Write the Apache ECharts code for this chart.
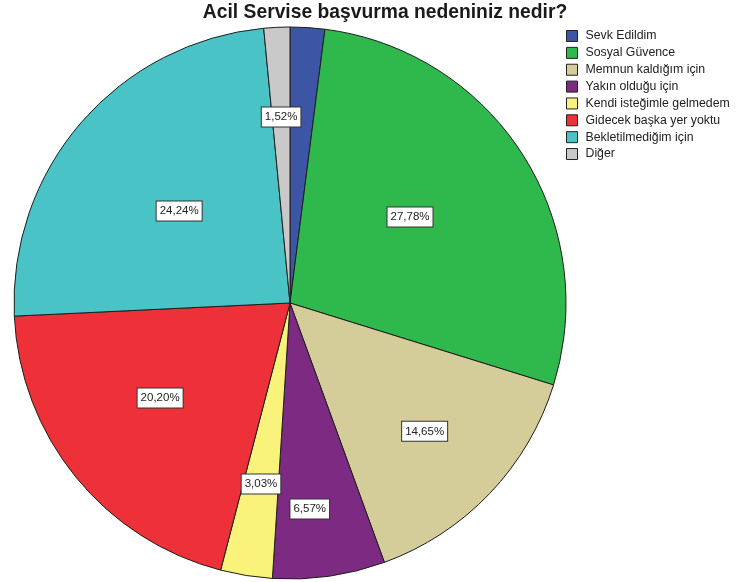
<!DOCTYPE html>
<html>
<head>
<meta charset="utf-8">
<style>
  html, body { margin: 0; padding: 0; background: #fff; }
  #chart { width: 736px; height: 582px; }
</style>
<script src="https://cdn.jsdelivr.net/npm/echarts@6/dist/echarts.min.js"></script>
</head>
<body>
<div id="chart"></div>
<script>
// Reasons for applying to the emergency department (percent of respondents)
const categories = [
  'Sevk Edildim',
  'Sosyal Güvence',
  'Memnun kaldığım için',
  'Yakın olduğu için',
  'Kendi isteğimle gelmedem',
  'Gidecek başka yer yoktu',
  'Bekletilmediğim için',
  'Diğer'
];
const percents = [2.02, 27.78, 14.65, 6.57, 3.03, 20.20, 24.24, 1.52];
const sliceColors = ['#3c55a5', '#2fb84c', '#d4cd99', '#7c2a82', '#f9f37b', '#ee3039', '#4ac3c6', '#c9c9c9'];
// label anchor per slice: [fraction of radius, angular shift in degrees]; null = no label
const labelAnchor = [null, [0.535, -2.9], [0.674, 0], [0.75, 2.7], [0.664, 0], [0.583, 2.9], [0.522, -1.2], [0.675, 0]];

const CX = 290, CY = 303, R = 276;

// bisector angle of each slice, clockwise from 12 o'clock
const total = percents.reduce((a, b) => a + b, 0);
const midAngles = [];
let acc = 0;
percents.forEach(v => {
  midAngles.push(((acc + v / 2) / total) * Math.PI * 2);
  acc += v;
});

const fmt = v => v.toFixed(2).replace('.', ',') + '%';
const FONT = 'Liberation Sans, Arial, sans-serif';

const chart = echarts.init(document.getElementById('chart'), null, { renderer: 'canvas' });
chart.setOption({
  animation: false,
  backgroundColor: '#ffffff',
  title: {
    text: 'Acil Servise başvurma nedeniniz nedir?',
    left: 385,
    textAlign: 'center',
    top: 0,
    padding: [3, 0, 0, 0],
    textStyle: { fontFamily: FONT, fontSize: 19.3, fontWeight: 'bold', color: '#1a1a1a' }
  },
  legend: {
    orient: 'vertical',
    left: 566,
    top: 30,
    padding: 0,
    itemWidth: 11,
    itemHeight: 11,
    itemGap: 4.86,
    icon: 'rect',
    selectedMode: false,
    itemStyle: { borderColor: '#222', borderWidth: 1 },
    textStyle: { fontFamily: FONT, fontSize: 12.3, lineHeight: 11, color: '#222', padding: [0, 0, 0, 3] },
    data: categories
  },
  series: [{
    type: 'pie',
    center: [CX, CY],
    radius: R,
    startAngle: 90,
    clockwise: true,
    silent: true,
    avoidLabelOverlap: false,
    itemStyle: { borderColor: '#1e1e1e', borderWidth: 1 },
    label: {
      position: 'inside',
      formatter: p => fmt(p.value),
      fontFamily: FONT,
      fontSize: 11.5,
      color: '#222',
      backgroundColor: '#ffffff',
      borderColor: '#333',
      borderWidth: 1,
      padding: [4, 3, 3, 3]
    },
    labelLine: { show: false },
    labelLayout: params => {
      const i = params.dataIndex;
      const anchor = labelAnchor[i];
      if (!anchor) return {};
      const a = midAngles[i] + anchor[1] * Math.PI / 180;
      return { x: CX + Math.sin(a) * R * anchor[0], y: CY - Math.cos(a) * R * anchor[0], align: 'center', verticalAlign: 'middle' };
    },
    data: categories.map((name, i) => ({
      name,
      value: percents[i],
      itemStyle: { color: sliceColors[i] },
      label: { show: labelAnchor[i] != null }
    }))
  }]
});
</script>
</body>
</html>
